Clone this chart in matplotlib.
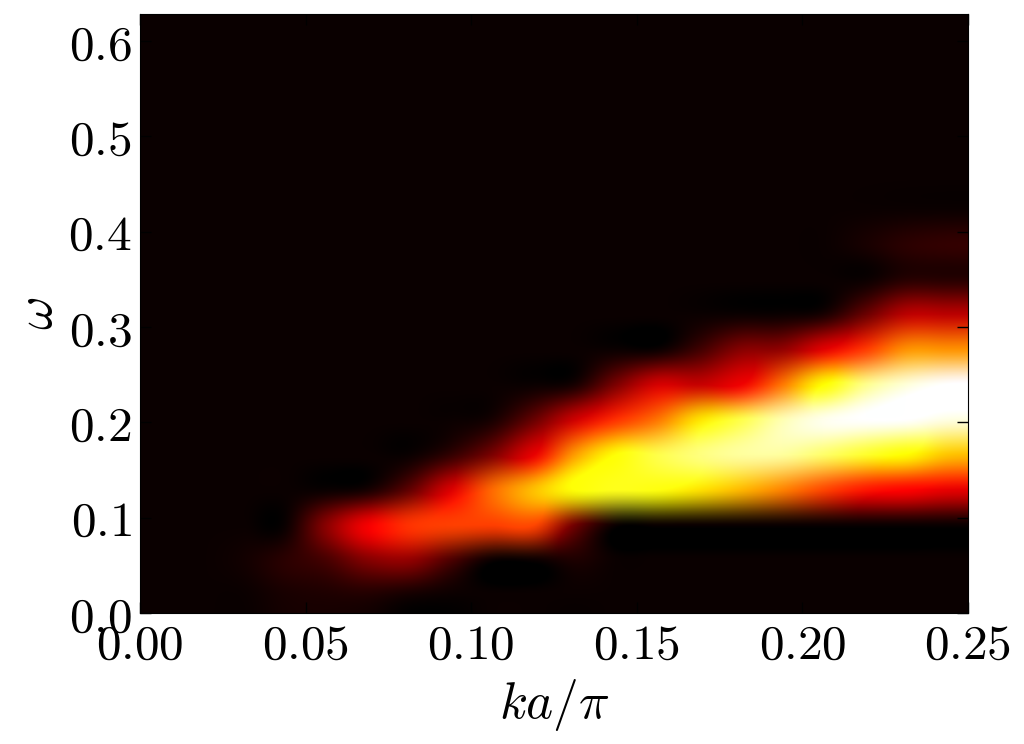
import numpy as np
import matplotlib
matplotlib.use("Agg")
import matplotlib.pyplot as plt
from matplotlib.ticker import FuncFormatter

plt.rcParams['mathtext.fontset'] = 'cm'
plt.rcParams['font.family'] = 'serif'

# grid extent: k a / pi from 0 to 0.25, omega from 0 to 0.2*pi
k_min, k_max = 0.0, 0.25
omega_min, omega_max = 0.0, 0.2 * np.pi

x_ticks = [0.00, 0.05, 0.10, 0.15, 0.20, 0.25]
y_ticks = [0.0, 0.1, 0.2, 0.3, 0.4, 0.5, 0.6]

B = 0.0  # background level

# spectral weight, one list per omega row (bottom to top), 20 k-columns each
w00 = [B, B, B, 0.02, 0.03, 0.035, 0.015, B, B, B, B, B, B, B, B, B, B, B, B, B]
w01 = [B, B, 0.015, 0.05, 0.09, 0.18, 0.20, 0.10, B, B, 0.03, B, B, B, B, B, B, B, B, B]
w02 = [B, B, B, B, 0.19, 0.35, 0.44, 0.46, 0.46, 0.47, 0.15, B, B, B, B, B, B, B, B, B]
w03 = [B, B, B, B, B, 0.02, 0.13, 0.31, 0.52, 0.65, 0.75, 0.77, 0.76, 0.70, 0.64, 0.56, 0.47, 0.40, 0.37, 0.33]
w04 = [B, B, B, B, B, B, B, 0.06, 0.17, 0.33, 0.60, 0.75, 0.82, 0.87, 0.90, 0.90, 0.85, 0.79, 0.74, 0.66]
w05 = [B, B, B, B, B, B, B, B, 0.02, 0.14, 0.29, 0.44, 0.54, 0.70, 0.82, 0.92, 0.98, 1.00, 1.00, 0.97]
w06 = [B, B, B, B, B, B, B, B, B, B, 0.02, 0.17, 0.30, 0.28, 0.34, 0.54, 0.74, 0.88, 0.96, 1.00]
w07 = [B, B, B, B, B, B, B, B, B, B, B, B, B, 0.08, 0.18, 0.20, 0.32, 0.45, 0.58, 0.58]
w08 = [B, B, B, B, B, B, B, B, B, B, B, B, B, B, B, B, 0.02, 0.14, 0.26, 0.26]
w09 = [B, B, B, B, B, B, B, B, B, B, B, B, B, B, B, B, B, B, 0.04, 0.04]
w10 = [B, B, B, B, B, B, B, B, B, B, B, B, B, B, B, B, B, 0.02, 0.05, 0.06]
w_top = [B] * 20  # rows 11-16 are flat background
n_top_rows = 6

rows = [w00, w01, w02, w03, w04, w05, w06, w07, w08, w09, w10] + [w_top] * n_top_rows
A = np.array(rows)

fig = plt.figure(figsize=(10.24, 7.44), dpi=100)
ax = fig.add_axes([0.1367, 0.1761, 0.8086, 0.8051])

ax.imshow(A, cmap='hot', vmin=0, vmax=1, origin='lower', aspect='auto',
          interpolation='catrom', interpolation_stage='rgba',
          extent=[k_min, k_max, omega_min, omega_max])

ax.set_xlim(k_min, k_max)
ax.set_ylim(omega_min, omega_max)
ax.set_xticks(x_ticks)
ax.set_yticks(y_ticks)
ax.xaxis.set_major_formatter(FuncFormatter(lambda v, p: r'$%.2f$' % v))
ax.yaxis.set_major_formatter(FuncFormatter(lambda v, p: r'$%.1f$' % v))
ax.tick_params(direction='in', top=True, right=True, length=8, width=1,
               labelsize=35.5, pad=6)

ax.set_xlabel(r'$ka/\pi$', fontsize=37, labelpad=6)
ax.set_ylabel(r'$\omega$', fontsize=37, labelpad=4)

fig.savefig('out.png', dpi=100)
